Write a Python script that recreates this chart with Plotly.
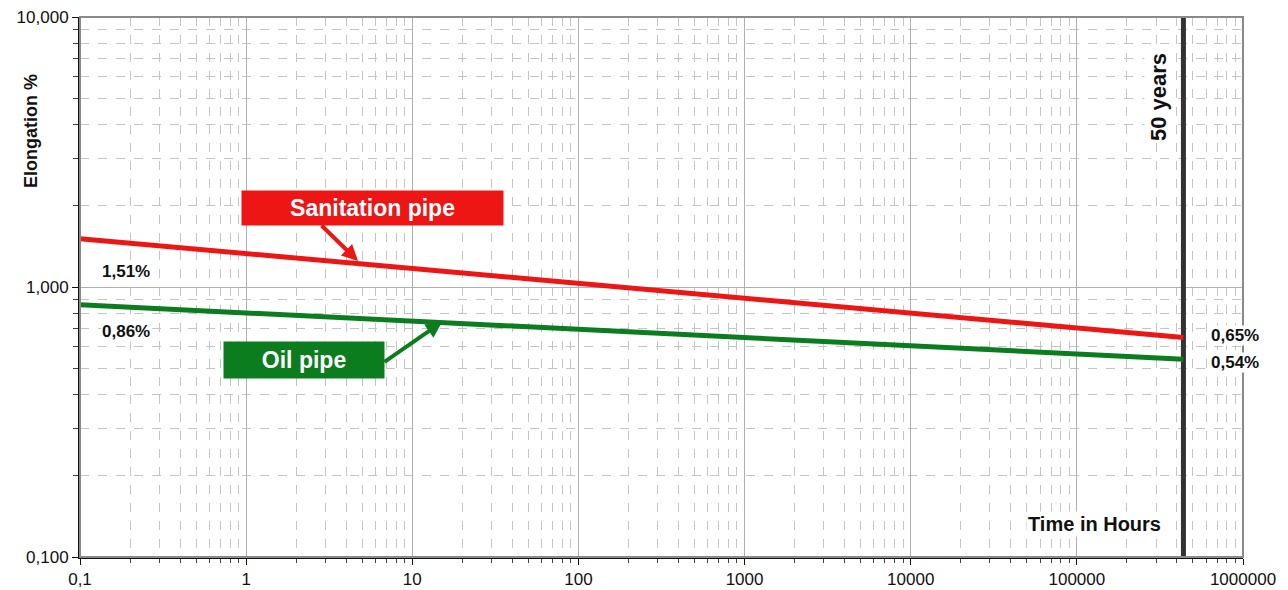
import plotly.graph_objects as go

# data
hours_50y = 438000
time_h = [0.1, hours_50y]
sanitation = [1.51, 0.65]
oil = [0.86, 0.54]
x_tickvals = [0.1, 1, 10, 100, 1000, 10000, 100000, 1000000]
x_ticktext = ["0,1", "1", "10", "100", "1000", "10000", "100000", "1000000"]
y_tickvals = [0.1, 1, 10]
y_ticktext = ["0,100", "1,000", "10,000"]

RED = "#ee1515"
GREEN = "#0b7d1f"
FONT = "Liberation Sans, Arial, sans-serif"

fig = go.Figure()
fig.add_trace(go.Scatter(x=[hours_50y, hours_50y], y=[0.1, 10], mode="lines",
                         line=dict(color="#333333", width=5), showlegend=False, hoverinfo="skip"))
fig.add_trace(go.Scatter(x=time_h, y=sanitation, mode="lines", name="Sanitation pipe",
                         line=dict(color=RED, width=5), showlegend=False))
fig.add_trace(go.Scatter(x=time_h, y=oil, mode="lines", name="Oil pipe",
                         line=dict(color=GREEN, width=5), showlegend=False))

# page body has an 8px margin, so the figure is shrunk by 8 px and margins compensate
OFF = 8
W, H = 1288 - OFF, 590 - OFF
L, R, T, B = 80 - OFF, 45, 17 - OFF, 33
pw, ph = W - L - R, H - T - B
X0, Y1 = 80, 557  # plot area edges in screen pixels

def px(xp):
    return (xp - X0) / pw

def py(yp):
    return (Y1 - yp) / ph

def note(text, xx, yy, **kw):
    d = dict(x=px(xx), y=py(yy), xref="paper", yref="paper", text=text,
             xanchor="center", yanchor="middle", showarrow=False)
    d.update(kw)
    return d

ann = []
ann.append(note("<b>Elongation %</b>", 31, 131, textangle=-90,
                font=dict(size=18, color="#111", family=FONT)))
ann.append(note("<b>Sanitation pipe</b>", 372, 208, bgcolor=RED, width=259, height=32,
                font=dict(size=23, color="white", family=FONT)))
ann.append(note("<b>Oil pipe</b>", 304, 360, bgcolor=GREEN, width=158, height=34,
                font=dict(size=23, color="white", family=FONT)))
# arrows
ann.append(dict(x=px(358), y=py(261), xref="paper", yref="paper", text="",
                showarrow=True, ax=320 - 358, ay=224 - 261, arrowcolor=RED, arrowwidth=4,
                arrowhead=2, arrowsize=0.8))
ann.append(dict(x=px(442), y=py(322), xref="paper", yref="paper", text="",
                showarrow=True, ax=383 - 442, ay=363 - 322, arrowcolor=GREEN, arrowwidth=4,
                arrowhead=2, arrowsize=0.8))
# value labels
for txt, xx, yy in [("1,51%", 126, 271), ("0,86%", 126, 331), ("0,65%", 1235, 335), ("0,54%", 1235, 362)]:
    ann.append(note("<b>" + txt + "</b>", xx, yy, bgcolor="white", borderpad=0,
                    font=dict(size=17, color="#111", family=FONT)))
ann.append(note("<b>Time in Hours</b>", 1094, 524, bgcolor="white",
                font=dict(size=20, color="#111", family=FONT)))
ann.append(note("<b>50 years</b>", 1158, 97, textangle=-90, bgcolor="white",
                font=dict(size=22, color="#111", family=FONT)))

fig.update_layout(
    width=W, height=H,
    margin=dict(l=L, r=R, t=T, b=B),
    paper_bgcolor="white", plot_bgcolor="white",
    annotations=ann,
    shapes=[dict(type="rect", xref="paper", yref="paper", x0=0, x1=1, y0=0, y1=1,
                 line=dict(color="#8a8a8a", width=2), layer="above")],
    font=dict(family=FONT, size=15, color="#111"),
)
fig.update_xaxes(type="log", range=[-1, 6], tickvals=x_tickvals, ticktext=x_ticktext,
                 automargin=False, ticklabeloverflow="allow",
                 showgrid=True, gridcolor="#b0b0b0", gridwidth=1,
                 showline=True, linecolor="#111", linewidth=2,
                 ticks="outside", ticklen=6, tickcolor="#111", zeroline=False,
                 tickfont=dict(size=17),
                 minor=dict(showgrid=True, griddash="dash", gridcolor="#c4c4c4", gridwidth=1,
                            ticks="outside", ticklen=4, tickcolor="#444", dtick="D1"))
fig.update_yaxes(type="log", range=[-1, 1], tickvals=y_tickvals, ticktext=y_ticktext,
                 automargin=False, ticklabeloverflow="allow",
                 showgrid=True, gridcolor="#b0b0b0", gridwidth=1,
                 showline=True, linecolor="#111", linewidth=2,
                 ticks="outside", ticklen=6, tickcolor="#111", zeroline=False,
                 tickfont=dict(size=17),
                 minor=dict(showgrid=True, griddash="dash", gridcolor="#c4c4c4", gridwidth=1,
                            ticks="outside", ticklen=5, tickcolor="#444", dtick="D1"))

fig.write_html("out.html")
